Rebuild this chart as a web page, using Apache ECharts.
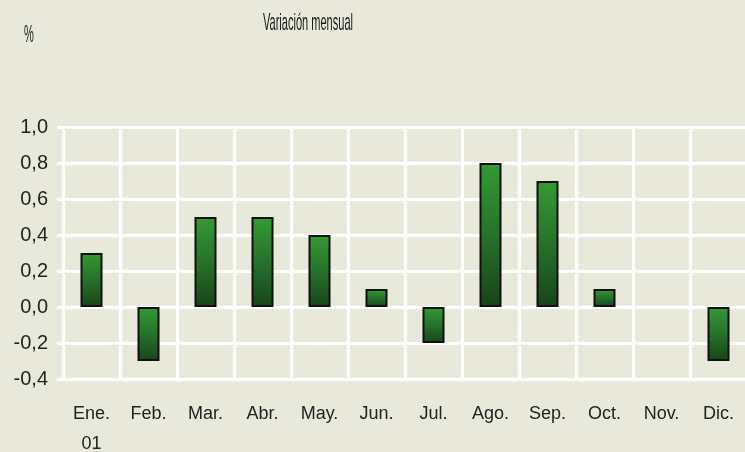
<!DOCTYPE html>
<html>
<head>
<meta charset="utf-8">
<script src="https://cdn.jsdelivr.net/npm/echarts@6/dist/echarts.min.js"></script>
<style>
  html, body { margin: 0; padding: 0; background: #e9e9db; }
  #chart { width: 745px; height: 452px; }
</style>
</head>
<body>
<div id="chart"></div>
<script>
var months = ["Ene.\n01", "Feb.", "Mar.", "Abr.", "May.", "Jun.", "Jul.", "Ago.", "Sep.", "Oct.", "Nov.", "Dic."];
var variacion = [0.3, -0.3, 0.5, 0.5, 0.4, 0.1, -0.2, 0.8, 0.7, 0.1, null, -0.3];
var yMin = -0.4, yMax = 1.0, yStep = 0.2;

var chart = echarts.init(document.getElementById("chart"));

var barFill = new echarts.graphic.LinearGradient(0, 0, 0, 1, [
  { offset: 0, color: "#349a34" },
  { offset: 0.5, color: "#26722a" },
  { offset: 1, color: "#18441a" }
]);

chart.setOption({
  backgroundColor: "#e9e9db",
  animation: false,
  graphic: [
    {
      type: "text",
      x: 308, y: 23,
      scaleX: 0.46,
      style: { text: "Variación mensual", fontFamily: "Liberation Sans", fontSize: 24, fill: "#1a1a1a", align: "center", verticalAlign: "middle" }
    },
    {
      type: "text",
      x: 29, y: 35,
      scaleX: 0.46,
      style: { text: "%", fontFamily: "Liberation Sans", fontSize: 24, fill: "#1a1a1a", align: "center", verticalAlign: "middle" }
    }
  ],
  grid: { left: 63, top: 127, width: 684, bottom: 73, outerBoundsMode: "none" },
  xAxis: {
    type: "category",
    data: months,
    axisLine: { show: false },
    axisTick: { show: false },
    splitLine: { show: true, interval: 0, lineStyle: { color: "#ffffff", width: 3 } },
    axisLabel: {
      interval: 0, margin: 20, lineHeight: 30,
      color: "#222", fontFamily: "Liberation Sans", fontSize: 18
    }
  },
  yAxis: {
    type: "value",
    min: yMin, max: yMax, interval: yStep,
    axisLine: { show: false },
    axisTick: { show: true, length: 6, lineStyle: { color: "#ffffff", width: 3 } },
    splitLine: { lineStyle: { color: "#ffffff", width: 3 } },
    axisLabel: {
      margin: 15, color: "#222", fontFamily: "Liberation Sans", fontSize: 20,
      formatter: function(v) { return v.toFixed(1).replace(".", ","); }
    }
  },
  series: [
    {
      type: "bar",
      data: variacion,
      barWidth: 22,
      itemStyle: { color: barFill, borderColor: "#111", borderWidth: 2 }
    }
  ]
});
</script>
</body>
</html>
